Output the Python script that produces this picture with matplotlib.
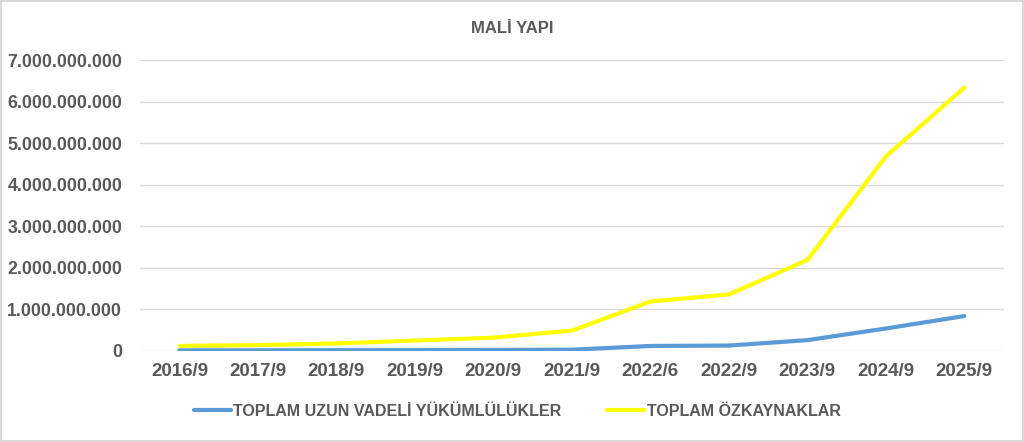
import matplotlib.pyplot as plt
from matplotlib.ticker import FuncFormatter

plt.rcParams['font.family'] = ['Liberation Sans', 'DejaVu Sans']

donemler = ['2016/9', '2017/9', '2018/9', '2019/9', '2020/9', '2021/9',
            '2022/6', '2022/9', '2023/9', '2024/9', '2025/9']
uzun_vadeli = [0.015e9, 0.016e9, 0.018e9, 0.02e9, 0.025e9, 0.03e9,
               0.12e9, 0.13e9, 0.26e9, 0.54e9, 0.84e9]
ozkaynaklar = [0.12e9, 0.14e9, 0.18e9, 0.25e9, 0.32e9, 0.49e9,
               1.19e9, 1.36e9, 2.19e9, 4.68e9, 6.34e9]
y_ticks = [0, 1e9, 2e9, 3e9, 4e9, 5e9, 6e9, 7e9]

gri = '#595959'

fig = plt.figure(figsize=(10.24, 4.42), dpi=100)
ax = fig.add_axes([0.137, 0.206, 0.843, 0.658])

x = range(len(donemler))
ax.plot(x, uzun_vadeli, color='#5B9BD5', lw=3, solid_capstyle='round',
        label='TOPLAM UZUN VADELİ YÜKÜMLÜLÜKLER')
ax.plot(x, ozkaynaklar, color='#FFFF00', lw=3, solid_capstyle='round',
        label='TOPLAM ÖZKAYNAKLAR')

ax.set_xlim(-0.5, len(donemler) - 0.5)
ax.set_ylim(0, 7e9)
ax.set_yticks(y_ticks)
ax.yaxis.set_major_formatter(FuncFormatter(lambda v, p: f'{int(v):,}'.replace(',', '.')))
ax.set_xticks(list(x))
ax.set_xticklabels(donemler)
ax.grid(axis='y', color='#D9D9D9', lw=1)
ax.set_axisbelow(True)
for s in ax.spines.values():
    s.set_visible(False)
ax.tick_params(length=0, labelcolor=gri)
ax.tick_params(axis='y', pad=13, labelsize=12.8)
ax.tick_params(axis='x', pad=9, labelsize=13.5)
for lab in ax.get_xticklabels() + ax.get_yticklabels():
    lab.set_fontweight('bold')

fig.text(0.5, 0.935, 'MALİ YAPI', ha='center', va='center',
         fontsize=12, fontweight='bold', color=gri)

leg = fig.legend(loc='center', bbox_to_anchor=(0.505, 0.07), ncol=2, frameon=False,
                 handlelength=2.3, handletextpad=0.15, columnspacing=2.9,
                 prop={'size': 11.5, 'weight': 'bold'})
for t in leg.get_texts():
    t.set_color(gri)

fig.patches.append(plt.Rectangle((0.001, 0.002), 0.998, 0.996, transform=fig.transFigure,
                                 fill=False, edgecolor='#D9D9D9', lw=1.5))

fig.savefig('out.png', dpi=100)
